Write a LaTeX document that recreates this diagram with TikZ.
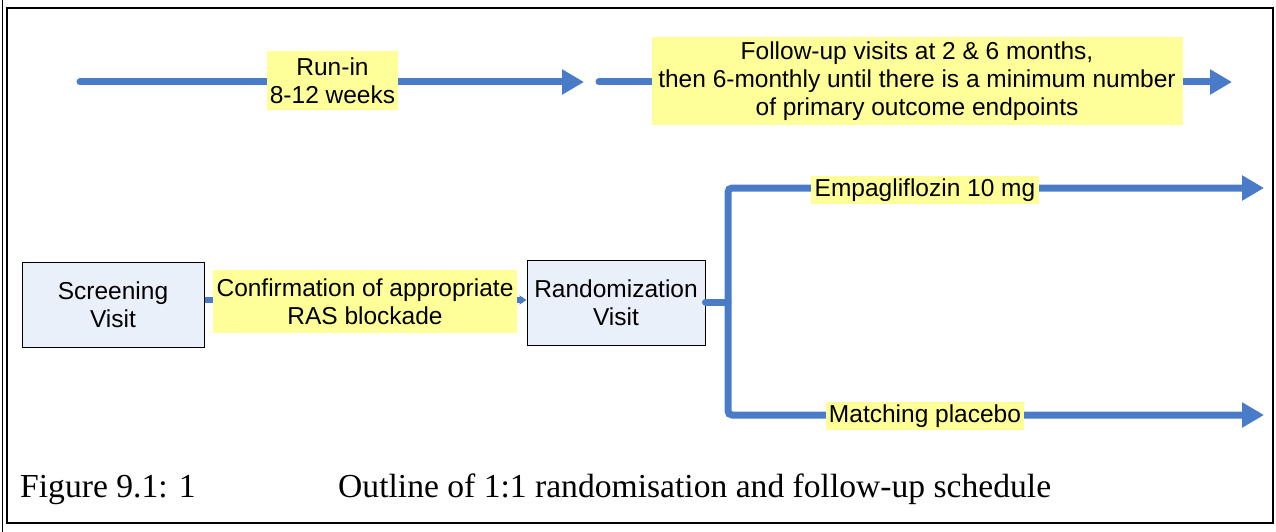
\documentclass[tikz,border=0pt]{standalone}
\usepackage{fontspec}
\setmainfont{Liberation Sans}
\newfontfamily\capfont{Liberation Serif}
\usetikzlibrary{arrows.meta}
\definecolor{flowblue}{HTML}{4A7BC8}
\definecolor{labelyellow}{HTML}{FFFF99}
\definecolor{boxblue}{HTML}{EAF0FA}
\tikzset{
  flow/.style={draw=flowblue, line width=7pt},
  flowarrow/.style={flow, -{Triangle[length=22pt,width=24pt]}},
  ylabel/.style={fill=labelyellow, inner sep=0pt, align=center, font=\fontsize{24.5}{28}\selectfont},
  visit/.style={draw=black, line width=1pt, fill=boxblue, inner sep=0pt, align=center, font=\fontsize{24.5}{28}\selectfont},
  captext/.style={anchor=base west, inner sep=0pt, font=\capfont\fontsize{33.6}{36}\selectfont}
}
\begin{document}
\begin{tikzpicture}[x=1pt,y=-1pt]
\useasboundingbox (0,0) rectangle (1276,532);
\fill[white] (0,0) rectangle (1276,532);
% frame
\draw[line width=2.5pt] (7,8) rectangle (1273,523);
\draw[line width=1pt] (2.5,0) -- (2.5,532);

% top timeline
\coordinate (a1s) at (80,82);
\coordinate (a1e) at (584,82);
\coordinate (a2s) at (599,82);
\coordinate (a2e) at (1232,82);
\draw[flowarrow, line cap=round] (a1s) -- (a1e);
\draw[flowarrow, line cap=round] (a2s) -- (a2e);
\node[ylabel, minimum width=131pt, minimum height=59pt] (runin) at (332.5,80.5) {Run-in\\8-12 weeks};
\node[ylabel, minimum width=531pt, minimum height=88pt, font=\fontsize{24.5}{28}\selectfont] (follow) at (917,81) {Follow-up visits at 2 \& 6 months,\\then 6-monthly until there is a minimum number\\of primary outcome endpoints};

% visits
\node[visit, minimum width=182pt, minimum height=85pt] (screen) at (113,304.5) {Screening\\Visit};
\node[visit, minimum width=178pt, minimum height=85pt] (rand) at (616,302.5) {Randomization\\Visit};
\draw[flow, line width=6pt, -{Triangle[length=7pt,width=9pt]}] (screen.east |- 0,300) -- (rand.west |- 0,300);
\node[ylabel, minimum width=304pt, minimum height=63pt] (confirm) at (365,301.5) {Confirmation of appropriate\\RAS blockade};

% branches
\coordinate (br) at (728,302);
\coordinate (top) at (728,188);
\coordinate (bot) at (728,415);
\coordinate (topend) at (1264,188);
\coordinate (botend) at (1264,415);
\draw[flow, line cap=round] (rand.east |- br) -- (br);
\draw[flowarrow, rounded corners=4pt] (br) -- (top) -- (topend);
\draw[flowarrow, rounded corners=4pt] (br) -- (bot) -- (botend);
\node[ylabel, minimum width=228pt, minimum height=28pt] (empa) at (925,190) {Empagliflozin 10 mg};
\node[ylabel, minimum width=198pt, minimum height=28pt] (plac) at (925,416) {Matching placebo};

% caption
\node[captext] (fig) at (20,497) {Figure 9.1: 1};
\node[captext] (capt) at (338,497) {Outline of 1:1 randomisation and follow-up schedule};
\end{tikzpicture}
\end{document}
